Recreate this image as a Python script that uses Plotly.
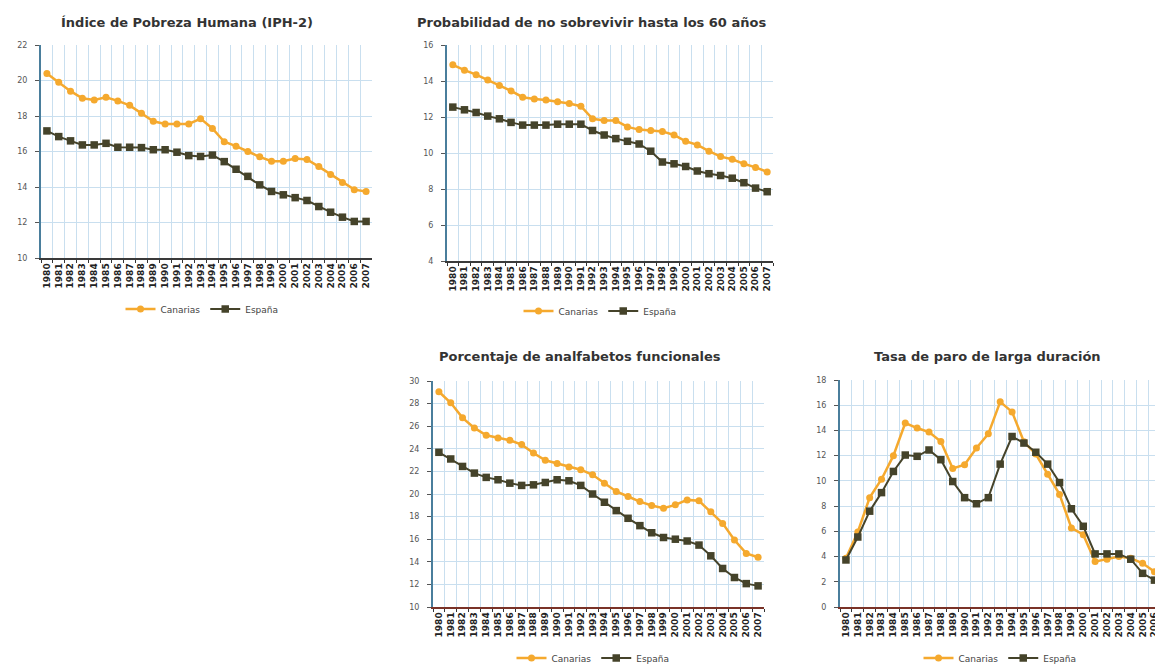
import plotly.graph_objects as go

years = [str(y) for y in range(1980, 2008)]

titles = [
    "Índice de Pobreza Humana (IPH-2)",
    "Probabilidad de no sobrevivir hasta los 60 años",
    "Porcentaje de analfabetos funcionales",
    "Tasa de paro de larga duración",
]

iph_canarias = [20.4, 19.9, 19.4, 19.0, 18.9, 19.05, 18.85, 18.6, 18.15, 17.7,
                17.55, 17.55, 17.55, 17.85, 17.3, 16.55, 16.3, 16.0, 15.7, 15.45,
                15.45, 15.6, 15.55, 15.15, 14.7, 14.25, 13.85, 13.75]
iph_espana = [17.16, 16.84, 16.6, 16.37, 16.37, 16.46, 16.24, 16.24, 16.22, 16.1,
              16.1, 15.96, 15.77, 15.72, 15.8, 15.43, 15.0, 14.6, 14.12, 13.75,
              13.56, 13.4, 13.24, 12.9, 12.58, 12.3, 12.06, 12.06]

prob_canarias = [14.9, 14.6, 14.35, 14.05, 13.75, 13.45, 13.1, 13.0, 12.95, 12.85,
                 12.75, 12.6, 11.9, 11.8, 11.8, 11.45, 11.3, 11.25, 11.2, 11.0,
                 10.65, 10.45, 10.1, 9.8, 9.65, 9.4, 9.2, 8.95]
prob_espana = [12.55, 12.4, 12.25, 12.05, 11.9, 11.7, 11.55, 11.55, 11.55, 11.6,
               11.6, 11.6, 11.25, 11.0, 10.8, 10.65, 10.5, 10.1, 9.5, 9.4,
               9.25, 9.0, 8.85, 8.75, 8.6, 8.35, 8.05, 7.85]

anal_canarias = [29.05, 28.07, 26.74, 25.85, 25.2, 24.96, 24.76, 24.37, 23.63, 22.98,
                 22.7, 22.4, 22.15, 21.7, 20.96, 20.22, 19.78, 19.33, 18.98, 18.74,
                 19.04, 19.48, 19.4, 18.44, 17.4, 15.93, 14.74, 14.4]
anal_espana = [23.69, 23.1, 22.44, 21.85, 21.47, 21.26, 20.96, 20.76, 20.81, 21.02,
               21.26, 21.17, 20.76, 20.0, 19.27, 18.53, 17.85, 17.2, 16.57, 16.15,
               16.0, 15.84, 15.48, 14.53, 13.41, 12.61, 12.07, 11.87]

paro_canarias = [3.87, 5.95, 8.67, 10.13, 12.0, 14.59, 14.19, 13.87, 13.12, 10.99,
                 11.28, 12.61, 13.73, 16.27, 15.47, 13.1, 12.13, 10.53, 8.93, 6.27,
                 5.73, 3.6, 3.79, 4.0, 3.87, 3.47, 2.8, 2.5]
paro_espana = [3.73, 5.55, 7.6, 9.07, 10.75, 12.05, 11.95, 12.45, 11.68, 9.95,
               8.67, 8.19, 8.67, 11.33, 13.52, 13.0, 12.27, 11.33, 9.87, 7.79,
               6.4, 4.21, 4.21, 4.21, 3.79, 2.67, 2.13, 1.87]

series = [
    (iph_canarias, iph_espana),
    (prob_canarias, prob_espana),
    (anal_canarias, anal_espana),
    (paro_canarias, paro_espana),
]
y_ranges = [[10, 22], [4, 16], [10, 30], [0, 18]]

# page has an 8px body margin: work in page pixels and shift
OFF = 8
W, H = 1163 - OFF, 664 - OFF
# plot area boxes in page pixels (left, right, top, bottom)
boxes = [(41, 372, 45, 258), (447, 773, 45, 261), (433, 764, 381, 607), (840, 1163, 380, 607)]
x_ranges = [[-0.5, 27.5], [-0.5, 27.5], [-0.5, 27.5], [-0.5, 26.72]]
x_line_colors = ["#3a3a3a", "#3a3a3a", "#7a3328", "#7a3328"]
title_pos = [(187, 22), (591, 22), (580, 356), (987, 356)]
legend_pos = [(202, 309), (600, 311), (593, 658), (1000, 658)]


def fx(px):
    return (px - OFF) / W


def fy(py):
    return 1 - (py - OFF) / H


ORANGE = "#F5A92E"
DARK = "#45432A"
GRID = "#C9DFEF"
FONT = "DejaVu Sans"

fig = go.Figure()
layout = dict(
    width=W, height=H,
    margin=dict(l=0, r=0, t=0, b=0, autoexpand=False),
    paper_bgcolor="white", plot_bgcolor="white",
    font=dict(family=FONT, color="#333"),
    annotations=[],
)

for i in range(4):
    n = i + 1
    sfx = "" if n == 1 else str(n)
    lg = "legend" if n == 1 else f"legend{n}"
    can, esp = series[i]
    fig.add_trace(go.Scatter(
        x=years, y=can, name="Canarias", mode="lines+markers",
        line=dict(color=ORANGE, width=2.5),
        marker=dict(symbol="circle", size=7, color=ORANGE),
        xaxis=f"x{sfx}", yaxis=f"y{sfx}", legend=lg,
    ))
    fig.add_trace(go.Scatter(
        x=years, y=esp, name="España", mode="lines+markers",
        line=dict(color=DARK, width=2),
        marker=dict(symbol="square", size=7.5, color=DARK),
        xaxis=f"x{sfx}", yaxis=f"y{sfx}", legend=lg,
    ))
    l, r, t, b = boxes[i]
    layout[f"xaxis{sfx}"] = dict(
        domain=[fx(l), min(fx(r), 1.0)], anchor=f"y{sfx}", type="category",
        range=x_ranges[i], tickangle=-90, tickson="boundaries",
        ticks="outside", ticklen=3, tickcolor="#333",
        showgrid=True, gridcolor=GRID, gridwidth=1,
        showline=True, linecolor=x_line_colors[i], linewidth=1.5,
        tickfont=dict(size=9, family=FONT, color="#222", weight="bold"),
        fixedrange=True,
    )
    layout[f"yaxis{sfx}"] = dict(
        domain=[fy(b), fy(t)], anchor=f"x{sfx}",
        range=y_ranges[i], dtick=2, tick0=0,
        ticks="outside", ticklen=4, tickcolor="#555",
        ticklabelstandoff=6,
        showgrid=True, gridcolor=GRID, gridwidth=1, zeroline=False,
        showline=True, linecolor="#4A7E9C", linewidth=2,
        tickfont=dict(size=8, family=FONT, color="#555"),
        fixedrange=True,
    )
    tx, ty = title_pos[i]
    layout["annotations"].append(dict(
        text=titles[i], x=fx(tx), y=fy(ty), xref="paper", yref="paper",
        xanchor="center", yanchor="middle", showarrow=False,
        font=dict(size=13, family=FONT, color="#333", weight="bold"),
    ))
    lx, ly = legend_pos[i]
    layout[lg] = dict(
        orientation="h", x=fx(lx), y=fy(ly), xanchor="center", yanchor="middle",
        xref="paper", yref="paper", itemwidth=30, bgcolor="rgba(0,0,0,0)",
        font=dict(size=9, family=FONT, color="#444"), tracegroupgap=0,
    )

fig.update_layout(**layout)
fig.write_html("out.html")
